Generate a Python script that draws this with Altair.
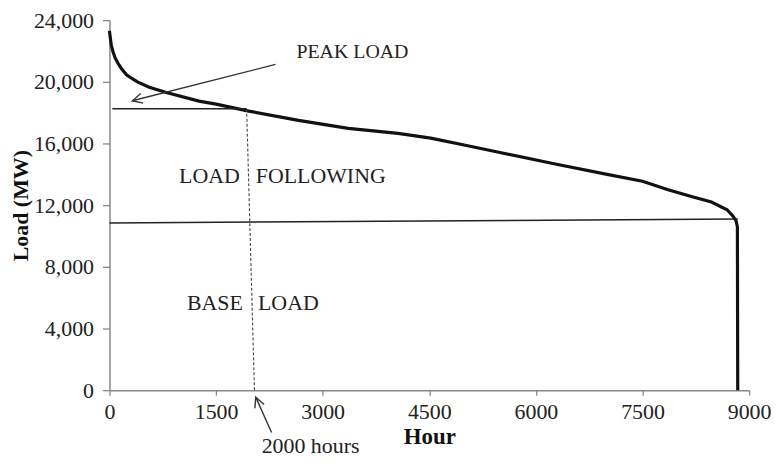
import altair as alt
import pandas as pd

FONT = "Liberation Serif"

# Load duration curve (hour, MW)
hours = [0, 10, 25, 50, 80, 120, 170, 240, 320, 400, 560, 800, 1260, 1500, 1960,
         2660, 3360, 4060, 4520, 4990, 5460, 6290, 7020, 7500, 7860, 8200, 8470,
         8690, 8770, 8815, 8835, 8840]
loads = [23300, 22900, 22400, 21950, 21550, 21200, 20850, 20450, 20200, 19980,
         19650, 19300, 18750, 18550, 18100, 17500, 16980, 16650, 16350, 15900,
         15450, 14650, 13980, 13550, 13000, 12550, 12200, 11700, 11300, 11000,
         10600, 0]

# Reference lines (x, y, x2, y2) in data units
line_x = [40, 0]
line_y = [18250, 10850]
line_x2 = [1930, 8840]
line_y2 = [18250, 11100]

# Dashed 2000-hour line
dash_x, dash_y, dash_x2, dash_y2 = [1930], [18250], [2040], [0]

# Arrows: tail -> tip
arrow_x = [2337, 2281]
arrow_y = [21130, -2750]
arrow_x2 = [322, 2058]
arrow_y2 = [18770, -450]
arrow_angle = [165.6, 247.7]

# Text labels
label_text = ["PEAK LOAD", "LOAD", "FOLLOWING", "BASE", "LOAD", "2000 hours"]
label_x = [2630, 980, 2058, 1090, 2090, 2141]
label_y = [21900, 13920, 13920, 5620, 5620, -3600]
label_size = [20, 22, 22, 22, 22, 22]

x_ticks = [0, 1500, 3000, 4500, 6000, 7500, 9000]
y_ticks = [0, 4000, 8000, 12000, 16000, 20000, 24000]

curve_df = pd.DataFrame({"hour": hours, "load": loads})
lines_df = pd.DataFrame({"x": line_x, "y": line_y, "x2": line_x2, "y2": line_y2})
dash_df = pd.DataFrame({"x": dash_x, "y": dash_y, "x2": dash_x2, "y2": dash_y2})
arrow_df = pd.DataFrame({"x": arrow_x, "y": arrow_y, "x2": arrow_x2, "y2": arrow_y2,
                         "angle": arrow_angle})
label_df = pd.DataFrame({"text": label_text, "x": label_x, "y": label_y,
                         "size": label_size})

xscale = alt.Scale(domain=[0, 9000], nice=False, zero=False)
yscale = alt.Scale(domain=[0, 24000], nice=False, zero=False)

curve = alt.Chart(curve_df).mark_line(color="#111111", strokeWidth=3.2,
                                      interpolate="linear").encode(
    x=alt.X("hour:Q", scale=xscale,
            axis=alt.Axis(values=x_ticks, format="d", title="Hour",
                          titleFontWeight="bold", titleFontSize=23,
                          titlePadding=4, labelFlush=False)),
    y=alt.Y("load:Q", scale=yscale,
            axis=alt.Axis(values=y_ticks, labelExpr="format(datum.value, ',')",
                          title="Load (MW)", labelFlush=False,
                          titleFontWeight="bold", titleFontSize=22,
                          titleX=-77, tickSize=7, labelPadding=9)),
    order=alt.Order("hour:Q"),
)

rules = alt.Chart(lines_df).mark_rule(color="#222222", strokeWidth=1.5).encode(
    x="x:Q", y="y:Q", x2="x2:Q", y2="y2:Q")

dash = alt.Chart(dash_df).mark_rule(color="#444444", strokeWidth=1.1,
                                    strokeDash=[3, 2]).encode(
    x="x:Q", y="y:Q", x2="x2:Q", y2="y2:Q")

arrow_lines = alt.Chart(arrow_df).mark_rule(color="#333333", strokeWidth=1.4).encode(
    x="x:Q", y="y:Q", x2="x2:Q", y2="y2:Q")

arrow_heads = alt.Chart(arrow_df).mark_point(
    shape="M-2,-1L0,0L-2,1", size=100, filled=False, color="#333333",
    strokeWidth=1.4, opacity=1).encode(
    x="x2:Q", y="y2:Q", angle=alt.Angle("angle:Q", scale=None))

labels = alt.Chart(label_df).mark_text(align="left", baseline="middle",
                                       font=FONT, color="#222222").encode(
    x="x:Q", y="y:Q", text="text:N",
    size=alt.Size("size:Q", scale=None))

chart = alt.layer(curve, rules, dash, arrow_lines, arrow_heads, labels).properties(
    width=643, height=372,
    autosize=alt.AutoSizeParams(type="none"),
    padding={"left": 102, "top": 11, "right": 22, "bottom": 70},
).configure_view(stroke=None).configure_axis(
    grid=False, labelFont=FONT, titleFont=FONT, labelFontSize=22,
    labelColor="#222222", titleColor="#111111", domainColor="#888888",
    domainWidth=1.5, tickColor="#888888", tickWidth=1.3,
).configure_axisX(tickSize=5, labelPadding=6)

chart.save("out.html", embed_options={"renderer": "svg", "actions": False})
